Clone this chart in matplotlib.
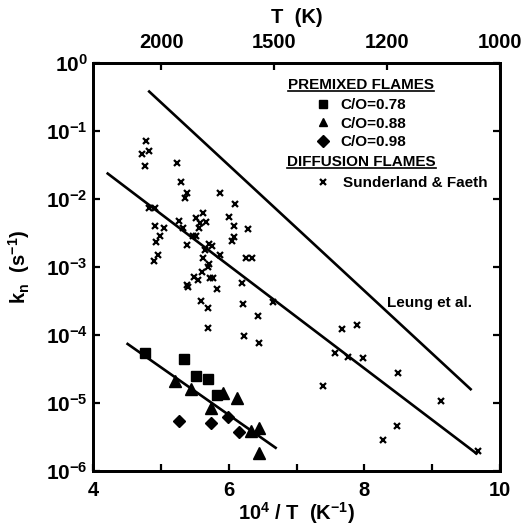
import math
import matplotlib
matplotlib.use("Agg")
import matplotlib.pyplot as plt
from matplotlib.lines import Line2D
from matplotlib.ticker import FixedLocator, FuncFormatter, NullLocator

plt.rcParams['font.family'] = ['Liberation Sans', 'DejaVu Sans']
plt.rcParams['font.weight'] = 'bold'
plt.rcParams['mathtext.fontset'] = 'custom'
plt.rcParams['mathtext.rm'] = 'Liberation Sans:bold'
plt.rcParams['mathtext.it'] = 'Liberation Sans:bold'
plt.rcParams['mathtext.bf'] = 'Liberation Sans:bold'
plt.rcParams['mathtext.default'] = 'rm'

# ---- data: 10^4/T (1/K) and k_n (1/s) ----
# premixed flames
co078_x = [4.76, 5.34, 5.52, 5.69, 5.82]
co078_k = [5.5e-5, 4.4e-5, 2.5e-5, 2.24e-5, 1.32e-5]

co088_x = [5.21, 5.44, 5.74, 5.92, 6.12, 6.32, 6.44, 6.45]
co088_k = [2.1e-5, 1.6e-5, 8.5e-6, 1.4e-5, 1.2e-5, 3.9e-6, 4.3e-6, 1.85e-6]

co098_x = [5.27, 5.74, 5.98, 6.15]
co098_k = [5.4e-6, 5.0e-6, 6.3e-6, 3.7e-6]

# diffusion flames (Sunderland & Faeth)
sf_x = [4.772, 4.723, 4.821, 4.767, 5.240, 5.294, 5.387, 5.353, 5.869, 6.095,
        4.821, 4.910, 4.910, 5.043, 4.984, 4.925, 4.954, 4.895, 5.264, 5.328,
        5.476, 5.515, 5.387, 5.515, 5.623, 5.574, 5.663, 5.564, 6.002, 6.081,
        6.081, 6.051, 6.287, 5.712, 5.746, 5.648, 5.623, 5.869, 6.253, 6.346,
        5.712, 5.697, 5.599, 5.485, 5.549, 5.377, 5.402, 5.722, 5.771, 5.820,
        6.199, 5.589, 5.697, 6.204, 6.425, 5.687, 6.223, 6.445, 6.656,
        7.665, 7.886, 7.566, 7.753, 7.974, 7.384, 8.501, 9.125, 8.486, 8.279, 9.681]
sf_k = [7.26e-2, 4.62e-2, 5.17e-2, 3.08e-2, 3.37e-2, 1.81e-2, 1.245e-2, 1.028e-2, 1.245e-2, 8.48e-3,
        7.32e-3, 7.32e-3, 4.02e-3, 3.71e-3, 2.86e-3, 2.36e-3, 1.50e-3, 1.23e-3, 4.82e-3, 3.71e-3,
        2.86e-3, 2.86e-3, 2.11e-3, 5.21e-3, 6.32e-3, 4.40e-3, 4.66e-3, 3.71e-3, 5.52e-3, 4.02e-3,
        2.80e-3, 2.45e-3, 3.59e-3, 2.18e-3, 2.04e-3, 1.78e-3, 1.37e-3, 1.50e-3, 1.37e-3, 1.37e-3,
        1.13e-3, 1.01e-3, 8.55e-4, 7.05e-4, 6.44e-4, 5.43e-4, 5.14e-4, 6.97e-4, 6.97e-4, 4.70e-4,
        5.75e-4, 3.16e-4, 2.47e-4, 2.86e-4, 1.90e-4, 1.29e-4, 9.64e-5, 7.69e-5, 3.09e-4,
        1.25e-4, 1.40e-4, 5.48e-5, 4.79e-5, 4.63e-5, 1.79e-5, 2.81e-5, 1.06e-5, 4.56e-6, 2.84e-6, 1.98e-6]

# correlation lines (end points)
leung_x = [4.81, 9.58]
leung_k = [0.396, 1.55e-5]
sf_fit_x = [4.197, 9.667]
sf_fit_k = [2.45e-2, 1.76e-6]
pm_fit_x = [4.49, 6.705]
pm_fit_k = [7.6e-5, 2.14e-6]

# temperature axis
top_T = [2000, 1500, 1200, 1000]
bottom_ticks = [4, 6, 8, 10]
bottom_minor = [5, 7, 9]
y_decades = [-6, -5, -4, -3, -2, -1, 0]

fig = plt.figure(figsize=(5.32, 5.25), dpi=100)
ax = fig.add_axes([0.1754, 0.1029, 0.7646, 0.7765])

lw = 1.9
ax.plot(leung_x, leung_k, color='black', lw=lw, solid_capstyle='butt')
ax.plot(sf_fit_x, sf_fit_k, color='black', lw=lw, solid_capstyle='butt')
ax.plot(pm_fit_x, pm_fit_k, color='black', lw=lw, solid_capstyle='butt')

h_sq, = ax.plot(co078_x, co078_k, ls='none', marker='s', ms=7, color='black')
h_tr, = ax.plot(co088_x, co088_k, ls='none', marker='^', ms=8, color='black')
h_di, = ax.plot(co098_x, co098_k, ls='none', marker='D', ms=6.5, color='black')
h_x, = ax.plot(sf_x, sf_k, ls='none', marker='x', ms=4.4, mew=1.6, color='black')

ax.set_yscale('log')
ax.set_xlim(4, 10)
ax.set_ylim(1e-6, 1)

fs_tick = 14.5
ax.xaxis.set_major_locator(FixedLocator(bottom_ticks))
ax.xaxis.set_minor_locator(FixedLocator(bottom_minor))
ax.yaxis.set_major_locator(FixedLocator([10.0 ** d for d in y_decades]))
ax.yaxis.set_minor_locator(NullLocator())
ax.yaxis.set_major_formatter(FuncFormatter(lambda v, p: r'$\mathbf{10^{%d}}$' % round(math.log10(v))))
ax.xaxis.set_major_formatter(FuncFormatter(lambda v, p: '%d' % v))

ax.tick_params(axis='both', which='both', direction='in', width=1.6,
               top=False, right=True, labelsize=fs_tick)
ax.tick_params(axis='both', which='major', length=5)
ax.tick_params(axis='x', which='minor', length=5)
ax.tick_params(axis='x', which='major', pad=7)
ax.tick_params(axis='y', which='major', pad=4, labelsize=fs_tick + 0.5)
for s in ax.spines.values():
    s.set_linewidth(2.0)

top = ax.twiny()
top.set_xlim(ax.get_xlim())
top.xaxis.set_major_locator(FixedLocator([1e4 / t for t in top_T]))
top.xaxis.set_minor_locator(NullLocator())
top.set_xticklabels([str(t) for t in top_T])
top.tick_params(axis='x', direction='in', length=5, width=1.6, labelsize=fs_tick, pad=8)
top.set_xlabel('T  (K)', fontsize=fs_tick, fontweight='bold', labelpad=7)
for s in top.spines.values():
    s.set_linewidth(2.0)

ax.set_xlabel(r'10$^{4}$ / T  (K$^{-1}$)', fontsize=fs_tick, fontweight='bold', labelpad=0)
ax.set_ylabel(r'k$_{n}$  (s$^{-1}$)', fontsize=fs_tick, fontweight='bold', labelpad=10)

ax.text(8.33, 2.97e-4, 'Leung et al.', fontsize=11, fontweight='bold', va='center', ha='left')

# legend: two groups with underlined headers
leg1 = ax.legend([h_sq, h_tr, h_di], ['C/O=0.78', 'C/O=0.88', 'C/O=0.98'],
                 loc='upper left', bbox_to_anchor=(0.545, 0.915), frameon=False,
                 borderpad=0, borderaxespad=0, handlelength=1.0, handletextpad=0.65,
                 labelspacing=0.3, prop={'size': 11, 'weight': 'bold'})
ax.add_artist(leg1)
leg2 = ax.legend([h_x], ['Sunderland & Faeth'],
                 loc='upper left', bbox_to_anchor=(0.545, 0.723), frameon=False,
                 borderpad=0, borderaxespad=0, handlelength=1.0, handletextpad=0.85,
                 prop={'size': 11, 'weight': 'bold'})
for lg in (leg1, leg2):
    for lh in lg.legend_handles:
        lh.set_markersize(6 if lh.get_marker() != 'x' else 4)

hdr1 = ax.text(0.479, 0.947, 'PREMIXED FLAMES', transform=ax.transAxes,
               fontsize=11, fontweight='bold', va='center', ha='left')
hdr2 = ax.text(0.476, 0.758, 'DIFFUSION FLAMES', transform=ax.transAxes,
               fontsize=11, fontweight='bold', va='center', ha='left')

fig.canvas.draw()
inv = fig.transFigure.inverted()
for h in (hdr1, hdr2):
    bb = h.get_window_extent()
    (x0, y0), (x1, _) = inv.transform([[bb.x0, bb.y0 + 1], [bb.x1, bb.y0]])
    fig.add_artist(Line2D([x0, x1], [y0, y0], transform=fig.transFigure,
                          color='black', lw=1.2))

fig.savefig('out.png', dpi=100)
